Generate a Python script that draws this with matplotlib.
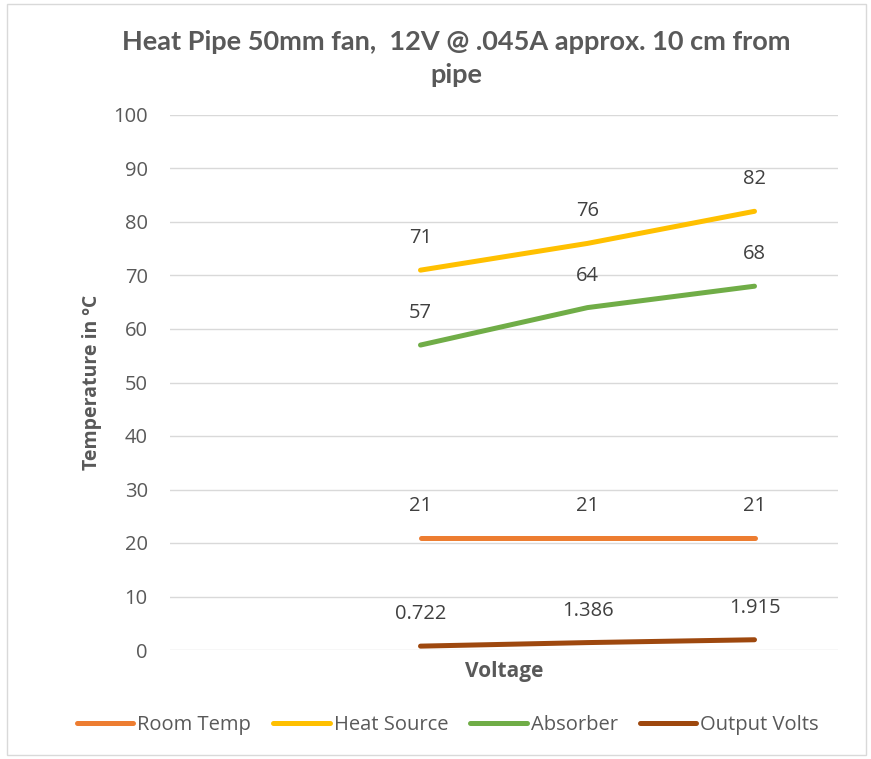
import numpy as np
import matplotlib.pyplot as plt
from matplotlib.patches import Rectangle

plt.rcParams['font.family'] = ['Open Sans', 'DejaVu Sans']

# four category slots, the first one is empty in the sheet
categories = ['', '', '', '']
room_temp = [np.nan, 21, 21, 21]
heat_source = [np.nan, 71, 76, 82]
absorber = [np.nan, 57, 64, 68]
output_volts = [np.nan, 0.722, 1.386, 1.915]

series = [
    ('Room Temp', room_temp, '#ED7D31', ['21', '21', '21']),
    ('Heat Source', heat_source, '#FFC000', ['71', '76', '82']),
    ('Absorber', absorber, '#70AD47', ['57', '64', '68']),
    ('Output Volts', output_volts, '#9E480E', ['0.722', '1.386', '1.915']),
]

txt = '#595959'
W, H = 871, 759
fig = plt.figure(figsize=(W / 100, H / 100), dpi=100)
ax = fig.add_axes([170 / W, 1 - 650 / H, 668 / W, 535 / H])

x = np.arange(len(categories))
for name, vals, col, labs in series:
    ax.plot(x, vals, color=col, lw=3.6, solid_capstyle='round', label=name)
    for xi, yi, lab in zip(x[1:], vals[1:], labs):
        ax.annotate(lab, (xi, yi), xytext=(0, 23), textcoords='offset points',
                    ha='center', va='center', fontsize=14.5, color='#404040')

ax.set_xlim(-0.5, 3.5)
ax.set_ylim(0, 100)
ax.set_yticks(np.arange(0, 101, 10))
ax.set_xticks([])
ax.grid(axis='y', color='#D9D9D9', lw=1)
ax.set_axisbelow(True)
for s in ax.spines.values():
    s.set_visible(False)
ax.tick_params(axis='y', length=0, labelsize=14.5, labelcolor=txt, pad=16)
ax.set_ylabel('Temperature in ºC', fontsize=14, fontweight='bold', color=txt, labelpad=8)
ax.set_xlabel('Voltage', fontsize=15, fontweight='bold', color=txt, labelpad=8)

fig.text(456 / W, 1 - 50 / H, 'Heat Pipe 50mm fan,  12V @ .045A approx. 10 cm from',
         ha='center', va='baseline', fontsize=19.5, fontweight='bold', color=txt,
         family=['Lato', 'DejaVu Sans'])
fig.text(456 / W, 1 - 83 / H, 'pipe',
         ha='center', va='baseline', fontsize=19.5, fontweight='bold', color=txt,
         family=['Lato', 'DejaVu Sans'])

fig.legend(loc='center', bbox_to_anchor=(448 / W, 34 / H), ncol=4, frameon=False,
           fontsize=14.5, handlelength=2.8, handletextpad=0.2, columnspacing=1.1,
           labelcolor=txt)

fig.patches.append(Rectangle((7 / W, 4 / H), 859 / W, 751 / H, transform=fig.transFigure,
                             fill=False, edgecolor='#D9D9D9', lw=1))

fig.savefig('out.png', dpi=100)
